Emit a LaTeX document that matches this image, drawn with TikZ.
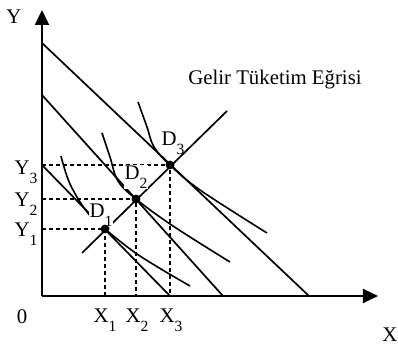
\documentclass[tikz,border=0pt]{standalone}
\usepackage{fontspec}
\setmainfont{Liberation Serif}
\usepackage{tikz}
\usetikzlibrary{arrows.meta,positioning,calc}
\newcommand{\lowidx}[1]{\raisebox{-0.42em}{\fontsize{7.8}{8}\selectfont #1}}
\tikzset{
  axis/.style={line width=1pt,-{Triangle[length=7.5pt,width=7pt]}},
  bline/.style={line width=0.85pt},
  icurve/.style={line width=0.8pt},
  guide/.style={line width=0.8pt,dash pattern=on 2pt off 1.5pt},
  dot/.style={circle,fill=black,inner sep=0pt,minimum size=4.4pt},
  lbl/.style={font=\fontsize{10.4}{12}\selectfont,inner sep=0.5pt},
}

\begin{document}
\begin{tikzpicture}[x=0.5pt,y=0.5pt]
    \useasboundingbox (-42,-55) rectangle (356,296);
    % axes
    \coordinate (O) at (0,0);
    \coordinate (xend) at (336,0);
    \coordinate (yend) at (0,286);
    \draw[axis] (O) -- (xend);
    \draw[axis] (O) -- (yend);
    % budget lines
    \coordinate (b1y) at (0,131);
    \coordinate (b1x) at (128,0);
    \coordinate (b2y) at (0,201);
    \coordinate (b2x) at (181,0);
    \coordinate (b3y) at (0,253);
    \coordinate (b3x) at (267,0);
    \draw[bline] (b1y) -- (b1x);
    \draw[bline] (b2y) -- (b2x);
    \draw[bline] (b3y) -- (b3x);
    % indifference curves
    \draw[icurve] plot[smooth,tension=0.6] coordinates
      {(19,140) (28,112) (45,84) (63,67) (98,40) (148,10)};
    \draw[icurve] plot[smooth,tension=0.6] coordinates
      {(60,163) (68,139) (76,115) (94,97) (131,70) (188,34)};
    \draw[icurve] plot[smooth,tension=0.6] coordinates
      {(96,194) (105,169) (112,149) (128,131) (158,106) (225,63)};
    % income consumption curve
    \coordinate (iccA) at (40,43);
    \coordinate (iccB) at (185,185);
    \draw[bline] (iccA) -- (iccB);
    % guides
    \coordinate (y1) at (0,67);
    \coordinate (y2) at (0,97);
    \coordinate (y3) at (0,131);
    \coordinate (x1) at (63,0);
    \coordinate (x2) at (94,0);
    \coordinate (x3) at (128,0);
    \coordinate (e1) at (63,67);
    \coordinate (e2) at (94,97);
    \coordinate (e3) at (128,131);
    \draw[guide] (y1) -- (e1) -- (x1);
    \draw[guide] (y2) -- (e2) -- (x2);
    \draw[guide] (y3) -- (e3) -- (x3);
    % labels
    \node[lbl] (ylab) at (-28,279) {Y};
    \node[lbl] (xlab) at (348,-39) {X};
    \node[lbl] (zero) at (-20,-21) {0};
    \node[lbl] (ly1) at (-16,62) {Y\lowidx{1}};
    \node[lbl] (ly2) at (-16,92) {Y\lowidx{2}};
    \node[lbl] (ly3) at (-16,124) {Y\lowidx{3}};
    \node[lbl] (lx1) at (63,-24) {X\lowidx{1}};
    \node[lbl] (lx2) at (95,-24) {X\lowidx{2}};
    \node[lbl] (lx3) at (129,-24) {X\lowidx{3}};
    \node[lbl,fill=white] (ld1) at (59,81) {D\lowidx{1}};
    \node[lbl,fill=white] (ld2) at (94,119) {D\lowidx{2}};
    \node[lbl] (ld3) at (131,153) {D\lowidx{3}};
    \node[lbl] (icc) at (233,216) {Gelir Tüketim Eğrisi};
    % equilibrium points
    \node[dot] (d1) at (e1) {};
    \node[dot] (d2) at (e2) {};
    \node[dot] (d3) at (e3) {};
\end{tikzpicture}
\end{document}
